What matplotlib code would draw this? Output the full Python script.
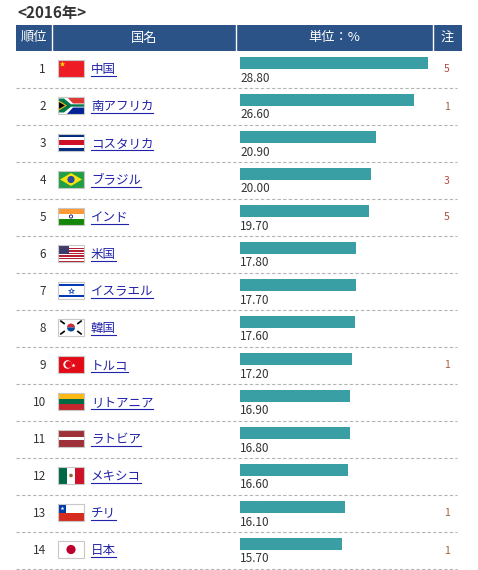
import matplotlib
matplotlib.use("Agg")
import matplotlib.pyplot as plt
from matplotlib.patches import Rectangle, Circle, Polygon, Wedge

plt.rcParams['font.family'] = ['Noto Sans CJK JP', 'DejaVu Sans']

# data
title = "<2016年>"
headers = ["順位", "国名", "単位：%", "注"]
ranks = list(range(1, 15))
countries = ["中国", "南アフリカ", "コスタリカ", "ブラジル", "インド", "米国", "イスラエル",
             "韓国", "トルコ", "リトアニア", "ラトビア", "メキシコ", "チリ", "日本"]
flag_codes = ["cn", "za", "cr", "br", "in", "us", "il", "kr", "tr", "lt", "lv", "mx", "cl", "jp"]
values = [28.80, 26.60, 20.90, 20.00, 19.70, 17.80, 17.70, 17.60, 17.20, 16.90, 16.80, 16.60, 16.10, 15.70]
notes = ["5", "1", "", "3", "5", "", "", "", "1", "", "", "", "1", "1"]

W, H = 478, 570
HEAD_TOP, HEAD_BOT = 25, 51
ROW_H = 37
LEFT, RIGHT = 16, 462
COL_X = [16, 52, 236, 433, 462]
BAR_X0 = 240
PX_PER_UNIT = 188 / 28.8
HEAD_COLOR = "#2b5387"
BAR_COLOR = "#3a9ea5"
LINK = "#2222aa"

fig = plt.figure(figsize=(W / 100, H / 100), dpi=100)
ax = fig.add_axes([0, 0, 1, 1])
ax.set_xlim(0, W)
ax.set_ylim(H, 0)
ax.axis("off")
renderer = fig.canvas.get_renderer()

ax.text(17, 13, title, fontsize=11, fontweight="bold", color="#333333", va="center", ha="left")

# header
ax.add_patch(Rectangle((LEFT, HEAD_TOP), RIGHT - LEFT, HEAD_BOT - HEAD_TOP, color=HEAD_COLOR, lw=0))
for x in COL_X[1:-1]:
    ax.plot([x, x], [HEAD_TOP, HEAD_BOT], color="white", lw=1)
for i, h in enumerate(headers):
    cx = (COL_X[i] + COL_X[i + 1]) / 2
    ax.text(cx, (HEAD_TOP + HEAD_BOT) / 2, h, color="white", fontsize=9.5, ha="center", va="center")


def draw_flag(code, x, y, w, h):
    def rect(x0, y0, ww, hh, c):
        ax.add_patch(Rectangle((x0, y0), ww, hh, color=c, lw=0))
    if code == "cn":
        rect(x, y, w, h, "#ee1c25")
        ax.plot(x + 4.5, y + 4, marker="*", ms=4, color="#ffde00", mec="none")
    elif code == "za":
        rect(x, y, w, h / 2, "#de3831")
        rect(x, y + h / 2, w, h / 2, "#002395")
        ax.add_patch(Polygon([(x, y), (x + 9, y), (x + 15, y + h * 0.38), (x + w, y + h * 0.38),
                              (x + w, y + h * 0.62), (x + 15, y + h * 0.62), (x + 9, y + h), (x, y + h)],
                             color="white", lw=0))
        ax.add_patch(Polygon([(x, y + 1.5), (x + 6, y + 1.5), (x + 13, y + h * 0.43), (x + w, y + h * 0.43),
                              (x + w, y + h * 0.57), (x + 13, y + h * 0.57), (x + 6, y + h - 1.5), (x, y + h - 1.5)],
                             color="#007a4d", lw=0))
        ax.add_patch(Polygon([(x, y + 3), (x + 9, y + h / 2), (x, y + h - 3)], color="#ffb612", lw=0))
        ax.add_patch(Polygon([(x, y + 4.5), (x + 7, y + h / 2), (x, y + h - 4.5)], color="black", lw=0))
    elif code == "cr":
        for yy, hh, c in [(0, 1 / 6, "#002b7f"), (1 / 6, 1 / 6, "white"), (2 / 6, 2 / 6, "#ce1126"),
                          (4 / 6, 1 / 6, "white"), (5 / 6, 1 / 6, "#002b7f")]:
            rect(x, y + yy * h, w, hh * h, c)
    elif code == "br":
        rect(x, y, w, h, "#229e45")
        ax.add_patch(Polygon([(x + 2, y + h / 2), (x + w / 2, y + 2), (x + w - 2, y + h / 2), (x + w / 2, y + h - 2)],
                             color="#f8e509", lw=0))
        ax.add_patch(Circle((x + w / 2, y + h / 2), 3.6, color="#2b49a3", lw=0))
    elif code == "in":
        rect(x, y, w, h / 3, "#ff9933")
        rect(x, y + h / 3, w, h / 3, "white")
        rect(x, y + 2 * h / 3, w, h / 3, "#138808")
        ax.add_patch(Circle((x + w / 2, y + h / 2), 1.6, fill=False, ec="#000080", lw=0.6))
    elif code == "us":
        for k in range(13):
            rect(x, y + k * h / 13, w, h / 13, "#b22234" if k % 2 == 0 else "white")
        rect(x, y, w * 0.42, h * 7 / 13, "#3c3b6e")
    elif code == "il":
        rect(x, y, w, h, "white")
        rect(x, y + 2, w, 2.2, "#0038b8")
        rect(x, y + h - 4.2, w, 2.2, "#0038b8")
        ax.plot(x + w / 2, y + h / 2, marker="*", ms=4, mfc="none", mec="#0038b8", mew=0.5)
    elif code == "kr":
        rect(x, y, w, h, "white")
        ax.add_patch(Wedge((x + w / 2, y + h / 2), 4, 180, 360, color="#cd2e3a", lw=0))
        ax.add_patch(Wedge((x + w / 2, y + h / 2), 4, 0, 180, color="#0047a0", lw=0))
        for dx, dy in [(-1, -1), (1, -1), (-1, 1), (1, 1)]:
            cx, cy = x + w / 2 + dx * 8.5, y + h / 2 + dy * 5.2
            ax.plot([cx - 1.6, cx + 1.6], [cy - 1.2 * dx * dy, cy + 1.2 * dx * dy], color="black", lw=1.2)
    elif code == "tr":
        rect(x, y, w, h, "#e30a17")
        ax.add_patch(Circle((x + 9.5, y + h / 2), 4.2, color="white", lw=0))
        ax.add_patch(Circle((x + 10.6, y + h / 2), 3.4, color="#e30a17", lw=0))
        ax.plot(x + 15.5, y + h / 2, marker="*", ms=3.2, color="white", mec="none")
    elif code == "lt":
        rect(x, y, w, h / 3, "#fdb913")
        rect(x, y + h / 3, w, h / 3, "#006a44")
        rect(x, y + 2 * h / 3, w, h / 3, "#c1272d")
    elif code == "lv":
        rect(x, y, w, h, "#9e3039")
        rect(x, y + h * 0.4, w, h * 0.2, "white")
    elif code == "mx":
        rect(x, y, w / 3, h, "#006847")
        rect(x + w / 3, y, w / 3, h, "white")
        rect(x + 2 * w / 3, y, w / 3, h, "#ce1126")
        ax.add_patch(Circle((x + w / 2, y + h / 2), 1.8, color="#8c6a3a", lw=0))
    elif code == "cl":
        rect(x, y, w, h / 2, "white")
        rect(x, y + h / 2, w, h / 2, "#d52b1e")
        rect(x, y, h / 2, h / 2, "#0039a6")
        ax.plot(x + h / 4, y + h / 4, marker="*", ms=3, color="white", mec="none")
    elif code == "jp":
        rect(x, y, w, h, "white")
        ax.add_patch(Circle((x + w / 2, y + h / 2), 4.6, color="#bc002d", lw=0))
    ax.add_patch(Rectangle((x, y), w, h, fill=False, ec="#c8c8c8", lw=0.8))


for i in range(len(ranks)):
    top = HEAD_BOT + i * ROW_H
    mid = top + ROW_H / 2
    ax.text(46, mid, str(ranks[i]), fontsize=8.5, color="#333333", ha="right", va="center")
    draw_flag(flag_codes[i], 58, top + 9, 26, 17)
    t = ax.text(91, mid, countries[i], fontsize=9, color=LINK, ha="left", va="center")
    # underline the link text
    w_px = t.get_window_extent(renderer=renderer).width
    ax.plot([91, 91 + w_px], [mid + 6, mid + 6], color=LINK, lw=0.8)
    if notes[i]:
        nc = "#b04a3e" if notes[i] != "1" else "#a0603a"
        ax.text(447, mid, notes[i], fontsize=7.5, color=nc, ha="center", va="center")
    ax.text(BAR_X0, top + 27, f"{values[i]:.2f}", fontsize=8.5, color="#333333", ha="left", va="center")
    ax.plot([LEFT, RIGHT - 5], [top + ROW_H, top + ROW_H], color="#b4b4b4", lw=0.8, ls=(0, (3, 2)))

# bars in their own axes (x in %)
xmax = 30
bax = fig.add_axes([BAR_X0 / W, 0, xmax * PX_PER_UNIT / W, 1])
bax.set_xlim(0, xmax)
bax.set_ylim(H, 0)
bax.axis("off")
bar_y = [HEAD_BOT + i * ROW_H + 12 for i in range(len(values))]
bax.barh(bar_y, values, height=12, left=0, color=BAR_COLOR, lw=0)

fig.savefig("out.png", dpi=100)
